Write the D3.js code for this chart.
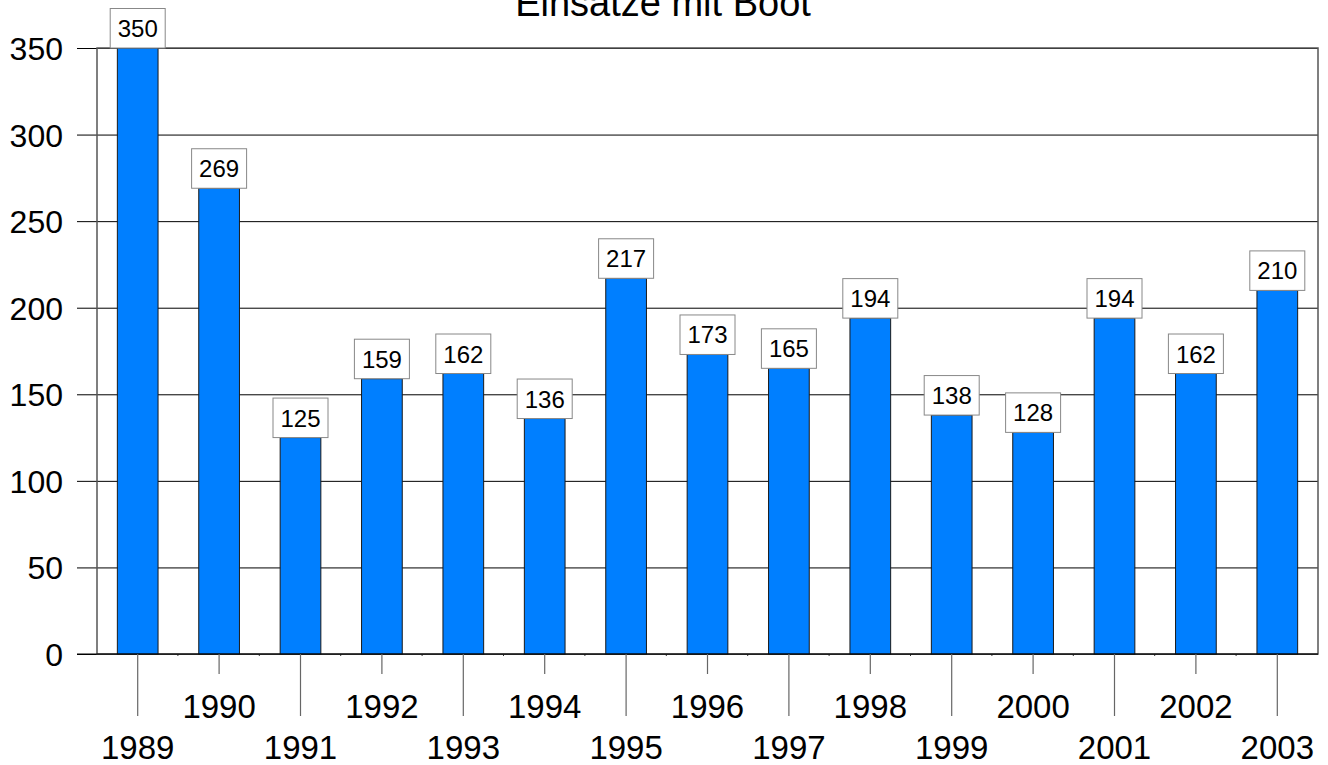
<!DOCTYPE html>
<html>
<head>
<meta charset="utf-8">
<script src="https://cdn.jsdelivr.net/npm/d3@7"></script>
<style>
  body { margin: 0; background: #fff; }
  svg { display: block; font-family: "Liberation Sans", Arial, sans-serif; }
</style>
</head>
<body>
<div id="chart"></div>
<script>
// data
const years = ['1989', '1990', '1991', '1992', '1993', '1994', '1995', '1996',
  '1997', '1998', '1999', '2000', '2001', '2002', '2003'];
const einsaetze = [350, 269, 125, 159, 162, 136, 217, 173, 165, 194, 138, 128, 194, 162, 210];
const yTicks = [0, 50, 100, 150, 200, 250, 300, 350];
const title = 'Einsätze mit Boot';

const W = 1328, H = 765;
const plot = { left: 97, right: 1318, top: 48, bottom: 654 };

const svg = d3.select('#chart').append('svg')
  .attr('width', W)
  .attr('height', H)
  .attr('viewBox', `0 0 ${W} ${H}`);

const x = d3.scaleBand()
  .domain(years)
  .range([plot.left, plot.right])
  .paddingInner(0.5)
  .paddingOuter(0.25);

const y = d3.scaleLinear()
  .domain([0, 350])
  .range([plot.bottom, plot.top]);

// Title (sits partly above the top edge, as in the original)
svg.append('text')
  .attr('x', 663)
  .attr('y', 16)
  .attr('text-anchor', 'middle')
  .attr('font-size', 38)
  .attr('fill', '#000')
  .text(title);

// Gridlines + y labels
const yAxis = d3.axisLeft(y)
  .tickValues(yTicks)
  .tickSize(-(plot.right - 77))
  .tickPadding(14);

const gy = svg.append('g')
  .attr('transform', 'translate(77,0)')
  .call(yAxis);
gy.select('.domain').remove();
gy.selectAll('line').attr('stroke', '#000').attr('stroke-width', 1);
gy.selectAll('text')
  .attr('font-size', 32)
  .attr('fill', '#000')
  .attr('dy', '0.36em')
  .style('font-family', '"Liberation Sans", Arial, sans-serif');

// Frame
svg.append('rect')
  .attr('x', plot.left)
  .attr('y', plot.top)
  .attr('width', plot.right - plot.left)
  .attr('height', plot.bottom - plot.top)
  .attr('fill', 'none')
  .attr('stroke', '#555')
  .attr('stroke-width', 1.5);

// Tiny ticks at category boundaries
svg.append('g')
  .selectAll('line')
  .data(years.slice(1))
  .enter()
  .append('line')
  .attr('x1', d => x(d) - x.step() * x.paddingInner() / 2 - 0.5)
  .attr('x2', d => x(d) - x.step() * x.paddingInner() / 2 - 0.5)
  .attr('y1', plot.bottom)
  .attr('y2', plot.bottom + 2)
  .attr('stroke', '#333');

// Bars
svg.append('g')
  .selectAll('rect')
  .data(einsaetze)
  .enter()
  .append('rect')
  .attr('x', (d, i) => x(years[i]))
  .attr('y', d => y(d))
  .attr('width', x.bandwidth())
  .attr('height', d => y(0) - y(d))
  .attr('fill', '#007fff')
  .attr('stroke', '#1a1a1a')
  .attr('stroke-width', 1);

// zero line on top
svg.append('line')
  .attr('x1', 77).attr('x2', plot.right)
  .attr('y1', y(0)).attr('y2', y(0))
  .attr('stroke', '#000');

// X axis: staggered ticks and labels
const odd = years.filter((d, i) => i % 2 === 0);
const even = years.filter((d, i) => i % 2 === 1);

function xAxisRow(vals, len, labelY) {
  const g = svg.append('g')
    .attr('transform', `translate(0,${plot.bottom})`)
    .call(d3.axisBottom(x).tickValues(vals).tickSize(len).tickPadding(0));
  g.select('.domain').remove();
  g.selectAll('line').attr('stroke', '#666').attr('stroke-width', 1.2);
  g.selectAll('text')
    .attr('y', labelY)
    .attr('dy', 0)
    .attr('font-size', 33)
    .attr('fill', '#000')
    .style('font-family', '"Liberation Sans", Arial, sans-serif');
}
xAxisRow(odd, 62, 105);
xAxisRow(even, 20, 64);

// Value labels
const lab = svg.append('g')
  .selectAll('g')
  .data(einsaetze)
  .enter()
  .append('g')
  .attr('transform', (d, i) => `translate(${x(years[i]) + x.bandwidth() / 2},${y(d)})`);

lab.append('rect')
  .attr('x', -27.5)
  .attr('y', -39.5)
  .attr('width', 55)
  .attr('height', 39.5)
  .attr('fill', '#fff')
  .attr('stroke', '#888')
  .attr('stroke-width', 1);

lab.append('text')
  .attr('y', -11)
  .attr('text-anchor', 'middle')
  .attr('font-size', 24)
  .attr('fill', '#000')
  .text(d => d);
</script>
</body>
</html>
